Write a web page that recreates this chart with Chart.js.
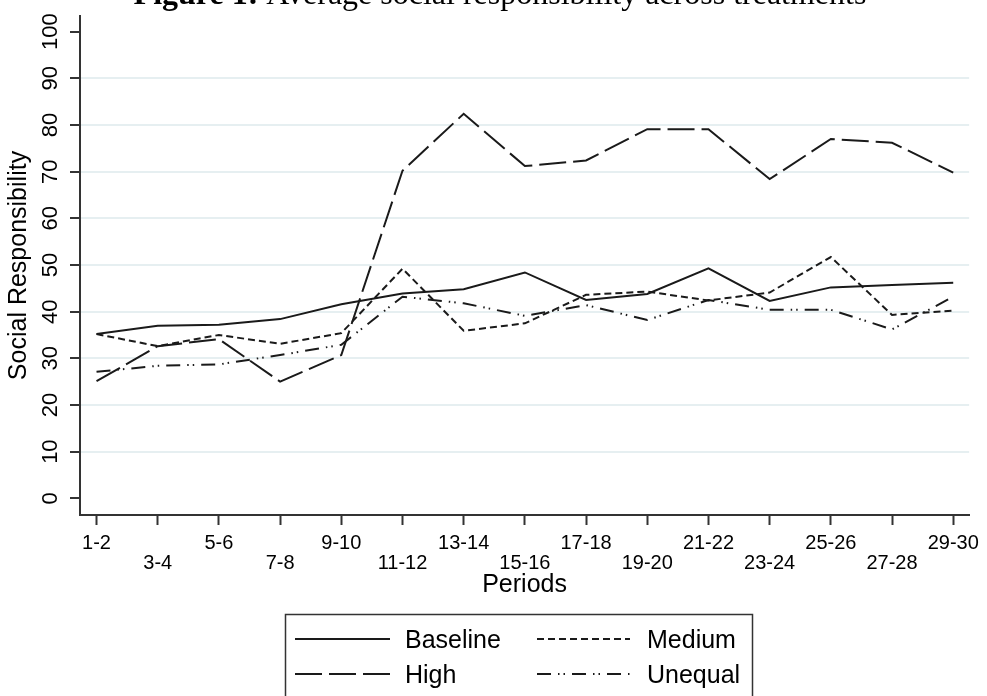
<!DOCTYPE html>
<html>
<head>
<meta charset="utf-8">
<script src="https://cdn.jsdelivr.net/npm/chart.js@4.4.1/dist/chart.umd.min.js"></script>
<style>
  html, body { margin: 0; padding: 0; background: #ffffff; }
  #wrap { width: 987px; height: 696px; position: relative; }
</style>
</head>
<body>
<div id="wrap"><canvas id="chart" width="987" height="696"></canvas></div>
<script>
// Average social responsibility per pair of periods, by treatment
const periods = ['1-2', '3-4', '5-6', '7-8', '9-10', '11-12', '13-14', '15-16',
                 '17-18', '19-20', '21-22', '23-24', '25-26', '27-28', '29-30'];
const baseline = [35.2, 37.0, 37.2, 38.4, 41.6, 43.9, 44.8, 48.4, 42.5, 43.8, 49.3, 42.3, 45.2, 45.7, 46.2];
const high     = [25.1, 32.6, 34.1, 25.0, 30.7, 70.2, 82.4, 71.2, 72.4, 79.1, 79.1, 68.4, 77.0, 76.2, 69.8];
const medium   = [35.2, 32.6, 35.0, 33.1, 35.4, 49.2, 35.9, 37.5, 43.6, 44.3, 42.4, 44.1, 51.7, 39.3, 40.2];
const unequal  = [27.1, 28.4, 28.7, 30.7, 32.9, 43.2, 41.8, 39.1, 41.4, 38.2, 42.5, 40.4, 40.4, 36.2, 43.2];
const yTickValues = [0, 10, 20, 30, 40, 50, 60, 70, 80, 90, 100];

const INK = '#1a1a1a';
const AXIS = '#333333';
const GRID = '#e6eff1';
const SANS = '"Liberation Sans", Arial, sans-serif';
const SERIF = '"Liberation Serif", "Times New Roman", serif';

function points(values) {
  return values.map((v, i) => ({ x: i, y: v }));
}

function series(label, values, dash) {
  return {
    label: label,
    data: points(values),
    borderColor: INK,
    borderWidth: 2,
    borderDash: dash,
    pointRadius: 0,
    pointHoverRadius: 0,
    tension: 0,
    fill: false
  };
}

// Title line along the top edge
const titlePlugin = {
  id: 'figureTitle',
  afterDraw(chart) {
    const ctx = chart.ctx;
    const bold = 'Figure 1: ';
    const rest = 'Average social responsibility across treatments';
    const size = 32;
    ctx.save();
    ctx.fillStyle = '#000';
    ctx.textBaseline = 'alphabetic';
    ctx.font = 'bold ' + size + 'px ' + SERIF;
    const wb = ctx.measureText(bold).width;
    ctx.font = size + 'px ' + SERIF;
    const wr = ctx.measureText(rest).width;
    const x0 = 500 - (wb + wr) / 2;
    ctx.font = 'bold ' + size + 'px ' + SERIF;
    ctx.textAlign = 'left';
    ctx.fillText(bold, x0, 4);
    ctx.font = size + 'px ' + SERIF;
    ctx.fillText(rest, x0 + wb, 4);
    ctx.restore();
  }
};

// Boxed two-column legend under the axis title
const legendPlugin = {
  id: 'boxLegend',
  afterDraw(chart) {
    const ctx = chart.ctx;
    const ds = chart.data.datasets;
    const order = [0, 2, 1, 3]; // Baseline, Medium / High, Unequal
    const cols = [{ x0: 295, x1: 390, tx: 405 }, { x0: 537, x1: 630, tx: 647 }];
    const rows = [639, 674];
    ctx.save();
    ctx.strokeStyle = AXIS;
    ctx.lineWidth = 1.5;
    ctx.strokeRect(285.5, 614.5, 467, 100);
    ctx.font = '25px ' + SANS;
    ctx.fillStyle = '#000';
    ctx.textBaseline = 'alphabetic';
    ctx.textAlign = 'left';
    order.forEach((dsIndex, k) => {
      const c = cols[k % 2];
      const y = rows[Math.floor(k / 2)];
      const d = ds[dsIndex];
      ctx.beginPath();
      ctx.setLineDash(d.borderDash || []);
      ctx.lineWidth = 2;
      ctx.strokeStyle = INK;
      ctx.moveTo(c.x0, y);
      ctx.lineTo(c.x1, y);
      ctx.stroke();
      ctx.setLineDash([]);
      ctx.fillText(d.label, c.tx, y + 9);
    });
    ctx.restore();
  }
};

new Chart(document.getElementById('chart'), {
  type: 'line',
  data: {
    datasets: [
      series('Baseline', baseline, []),
      series('High', high, [27, 7]),
      series('Medium', medium, [7, 4]),
      series('Unequal', unequal, [14, 7, 1.5, 4, 1.5, 7])
    ]
  },
  options: {
    responsive: false,
    animation: false,
    events: [],
    layout: { padding: { left: 0, right: 11, top: 16, bottom: 96 } },
    plugins: {
      legend: { display: false },
      tooltip: { enabled: false },
      title: { display: false }
    },
    scales: {
      x: {
        type: 'linear',
        min: -0.27,
        max: 14.26,
        afterBuildTicks(scale) {
          scale.ticks = periods.map((_, i) => ({ value: i }));
        },
        afterFit(scale) { scale.height = 85; },
        grid: {
          drawOnChartArea: false,
          drawTicks: true,
          tickLength: 10,
          tickColor: AXIS,
          tickWidth: 2
        },
        border: { display: true, color: AXIS, width: 2 },
        ticks: {
          autoSkip: false,
          maxRotation: 0,
          minRotation: 0,
          padding: 8,
          color: '#000',
          font: { family: SANS, size: 20, lineHeight: 1.0 },
          callback(value) {
            const label = periods[value];
            if (label === undefined) return '';
            return value % 2 === 0 ? label : ['', label];
          }
        },
        title: {
          display: true,
          text: 'Periods',
          color: '#000',
          font: { family: SANS, size: 25, lineHeight: 1.2 },
          padding: { top: 0, bottom: 0 }
        }
      },
      y: {
        type: 'linear',
        min: -3.58,
        max: 103.36,
        afterBuildTicks(scale) {
          scale.ticks = yTickValues.map(v => ({ value: v }));
        },
        afterFit(scale) { scale.width = 80; },
        grid: {
          drawTicks: true,
          tickLength: 10,
          tickColor: AXIS,
          tickWidth: 2,
          lineWidth: 2,
          color(ctx) {
            const v = ctx.tick ? ctx.tick.value : null;
            return (v === 0 || v === 100) ? 'rgba(0,0,0,0)' : GRID;
          }
        },
        border: { display: true, color: AXIS, width: 2 },
        ticks: {
          autoSkip: false,
          minRotation: 90,
          maxRotation: 90,
          crossAlign: 'center',
          padding: 1,
          color: '#000',
          font: { family: SANS, size: 22 },
          callback(value) { return String(value); }
        },
        title: {
          display: true,
          text: 'Social Responsibility',
          color: '#000',
          font: { family: SANS, size: 25, lineHeight: 1.2 },
          padding: { top: 4, bottom: 0 }
        }
      }
    }
  },
  plugins: [titlePlugin, legendPlugin]
});
</script>
</body>
</html>
